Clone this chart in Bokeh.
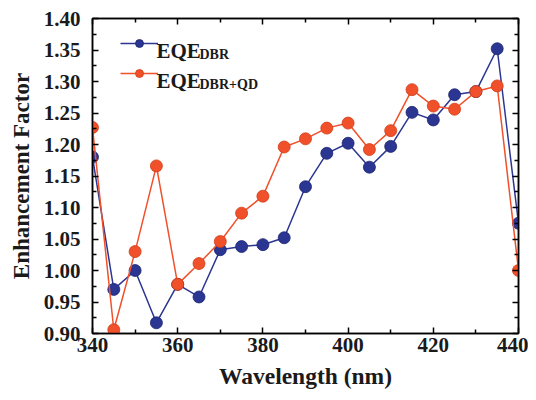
from bokeh.plotting import figure
from bokeh.models import (Range1d, FixedTicker, PrintfTickFormatter, LinearAxis,
                          Legend, LegendItem, Label, ColumnDataSource, CustomJSTickFormatter)
from bokeh.embed import file_html
from bokeh.resources import INLINE

wavelength = [340, 345, 350, 355, 360, 365, 370, 375, 380, 385, 390,
              395, 400, 405, 410, 415, 420, 425, 430, 435, 440]
eqe_dbr = [1.180, 0.970, 1.000, 0.917, 0.978, 0.958, 1.033, 1.038, 1.041, 1.052, 1.133,
           1.186, 1.202, 1.164, 1.197, 1.251, 1.239, 1.279, 1.284, 1.352, 1.075]
eqe_dbr_qd = [1.227, 0.906, 1.030, 1.166, 0.978, 1.011, 1.046, 1.091, 1.118, 1.196, 1.209,
              1.226, 1.234, 1.192, 1.222, 1.287, 1.261, 1.256, 1.284, 1.293, 1.000]

x_ticks = [340, 360, 380, 400, 420, 440]
x_minor = [350, 370, 390, 410, 430]
y_ticks = [0.90, 0.95, 1.00, 1.05, 1.10, 1.15, 1.20, 1.25, 1.30, 1.35, 1.40]
y_minor = [0.925, 0.975, 1.025, 1.075, 1.125, 1.175, 1.225, 1.275, 1.325, 1.375]

BLUE = "#2b3592"
RED = "#f0502a"
FONT = "Liberation Serif"
TXT = "#1a1a1a"

p = figure(width=528, height=392, output_backend="svg", toolbar_location=None,
           x_range=Range1d(340, 440), y_range=Range1d(0.90, 1.40),
           min_border_left=92, min_border_right=10, min_border_top=18, min_border_bottom=59)
p.xgrid.visible = False
p.ygrid.visible = False
p.outline_line_color = "black"
p.outline_line_width = 1.5
p.background_fill_color = "white"

src = ColumnDataSource(dict(x=wavelength, a=eqe_dbr, b=eqe_dbr_qd))
l1 = p.line("x", "a", source=src, line_color=BLUE, line_width=1.5)
s1 = p.scatter("x", "a", source=src, size=12, fill_color=BLUE, line_color="#1c2470", line_width=0.8)
l2 = p.line("x", "b", source=src, line_color=RED, line_width=1.5)
s2 = p.scatter("x", "b", source=src, size=12, fill_color=RED, line_color="#d23c18", line_width=0.8)


def style(ax, labels=True):
    ax.axis_line_width = 1.5
    ax.major_tick_line_width = 1.5
    ax.minor_tick_line_width = 1.5
    ax.major_tick_in = 6
    ax.major_tick_out = 0
    ax.minor_tick_in = 4
    ax.minor_tick_out = 0
    ax.major_label_text_font = FONT
    ax.major_label_text_font_style = "bold"
    ax.major_label_text_font_size = "21px"
    ax.major_label_text_color = TXT
    ax.axis_label_text_font = FONT
    ax.axis_label_text_font_style = "bold"
    ax.axis_label_text_color = TXT
    if not labels:
        ax.formatter = CustomJSTickFormatter(code="return ''")
        ax.major_label_standoff = 0


p.xaxis.ticker = FixedTicker(ticks=x_ticks, minor_ticks=x_minor)
p.yaxis.ticker = FixedTicker(ticks=y_ticks, minor_ticks=y_minor)
p.yaxis.formatter = PrintfTickFormatter(format="%.2f")
for ax in p.xaxis + p.yaxis:
    style(ax)
p.xaxis.axis_label = "Wavelength (nm)"
p.xaxis.axis_label_text_font_size = "23.5px"
p.xaxis.major_label_standoff = 4
p.xaxis.axis_label_standoff = 8
p.yaxis.axis_label = "Enhancement Factor"
p.yaxis.axis_label_text_font_size = "23px"
p.yaxis.major_label_standoff = 12
p.yaxis.axis_label_standoff = 7

top = LinearAxis(ticker=FixedTicker(ticks=x_ticks, minor_ticks=x_minor))
right = LinearAxis(ticker=FixedTicker(ticks=y_ticks, minor_ticks=y_minor))
style(top, labels=False)
style(right, labels=False)
p.add_layout(top, "above")
p.add_layout(right, "right")

legend = Legend(items=[LegendItem(label=" ", renderers=[l1, s1]),
                       LegendItem(label=" ", renderers=[l2, s2])],
                location=(28, 250), glyph_width=38, glyph_height=20, spacing=10,
                padding=0, margin=0, border_line_alpha=0, background_fill_alpha=0,
                label_text_font_size="1px", label_standoff=0)
p.add_layout(legend)

for y0, sub in [(283, "DBR"), (253, "DBR+QD")]:
    p.add_layout(Label(x=64, y=y0, x_units="screen", y_units="screen", text="EQE",
                       text_font=FONT, text_font_style="bold", text_font_size="21px",
                       text_color=TXT, text_baseline="alphabetic"))
    p.add_layout(Label(x=107, y=y0 - 4, x_units="screen", y_units="screen", text=sub,
                       text_font=FONT, text_font_style="bold", text_font_size="14px",
                       text_color=TXT, text_baseline="alphabetic"))

open("out.html", "w").write(file_html(p, INLINE))
